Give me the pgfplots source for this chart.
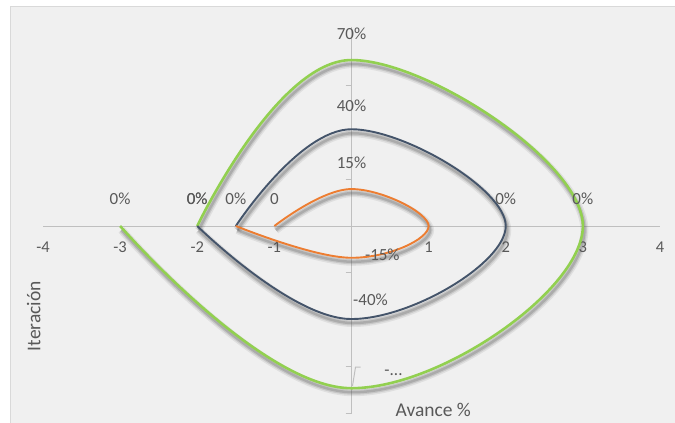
\documentclass[border=0pt]{standalone}
\usepackage{pgfplots}
\pgfplotsset{compat=1.18}
\usepackage{fontspec}
\setmainfont{Carlito}

\definecolor{chartbg}{RGB}{240,240,240}
\definecolor{chartborder}{RGB}{217,217,217}
\definecolor{axisgray}{RGB}{191,191,191}
\definecolor{textgray}{RGB}{89,89,89}
\definecolor{serGreen}{RGB}{146,208,80}
\definecolor{serBlue}{RGB}{68,84,106}
\definecolor{serOrange}{RGB}{237,125,49}

% Spiral turns: each series runs from its start on the x axis, over the top,
% around the right, under the bottom and back to the x axis.
\pgfplotstableread{
x y
-1 0
0 0.79
1 0
0 -0.68
-1.5 0
}\turnA
\pgfplotstableread{
x y
-1.5 0
0 2.07
2 0
0 -1.99
-2 0
}\turnB
\pgfplotstableread{
x y
-2 0
0 3.55
3 0
0 -3.47
-3 0
}\turnC

\tikzset{
  shadowline/.style 2 args={draw=black!70, opacity=#2, line width=#1,
    transform canvas={shift={(1.5bp,-4bp)}}},
  dlabel/.style={font=\fontsize{17bp}{19bp}\selectfont, text=textgray, inner sep=0pt},
}

\begin{document}
\begin{tikzpicture}
\useasboundingbox (0,0) rectangle (675bp,423bp);
\fill[white] (0,0) rectangle (675bp,423bp);
\fill[chartbg] (10bp,0) rectangle (675bp,416bp);
\draw[chartborder, line width=1bp] (10bp,0) -- (10bp,416bp) -- (675bp,416bp);

\begin{axis}[
  at={(43bp,10bp)}, anchor=south west,
  scale only axis, width=617bp, height=386bp,
  xmin=-4, xmax=4, ymin=-4, ymax=4.257,
  axis lines=middle,
  axis line style={axisgray, line width=1bp, -},
  clip=false,
  xtick={-4,-3,...,4},
  xticklabels={-4,-3,-2,-1,0,1,2,3,4},
  major x tick style={draw=none},
  extra x ticks={-4,4}, extra x tick labels={},
  extra x tick style={major tick length=6bp, tick align=outside, major tick style={draw=axisgray, line width=1bp}},
  ytick={-4,-3,-1,1,3}, yticklabels={},
  major tick length=6bp,
  y tick style={draw=axisgray, line width=1bp},
  ytick align=outside,
  xticklabel style={font=\fontsize{16.5bp}{18bp}\selectfont, text=textgray, yshift=-9bp},
  xlabel={Avance \%}, ylabel={Iteración},
  xlabel style={at={(axis cs:1.06,-3.94)}, anchor=center,
    font=\fontsize{19.5bp}{22bp}\selectfont, text=textgray},
  ylabel style={at={(axis cs:-4.12,-1.93)}, anchor=center, rotate=90,
    font=\fontsize{19.5bp}{22bp}\selectfont, text=textgray},
  every axis plot/.append style={smooth, tension=0.7},
]
% soft shadows under the lines
\addplot[shadowline={8bp}{0.10}] table {\turnC};
\addplot[shadowline={5bp}{0.16}] table {\turnC};
\addplot[shadowline={2.5bp}{0.22}] table {\turnC};
\addplot[shadowline={8bp}{0.10}] table {\turnB};
\addplot[shadowline={5bp}{0.16}] table {\turnB};
\addplot[shadowline={2.5bp}{0.22}] table {\turnB};
\addplot[shadowline={8bp}{0.10}] table {\turnA};
\addplot[shadowline={5bp}{0.16}] table {\turnA};
\addplot[shadowline={2.5bp}{0.22}] table {\turnA};

% the three turns
\addplot[serGreen, line width=2.6bp] table {\turnC};
\addplot[serBlue, line width=1.9bp] table {\turnB};
\addplot[serOrange, line width=1.9bp] table {\turnA};

% leader line of the bottom label
\draw[axisgray, line width=1bp] (axis cs:0.117,-3.02) -- (axis cs:0.052,-3.02)
  .. controls (axis cs:0.03,-3.2) .. (axis cs:0.013,-3.42);

% data labels
\node[dlabel] at (axis cs:0,4.11) {70\%};
\node[dlabel] at (axis cs:0,2.57) {40\%};
\node[dlabel] at (axis cs:0,1.35) {15\%};
\node[dlabel] at (axis cs:-3,0.58) {0\%};
\node[dlabel] at (axis cs:-2,0.58) {0\%};
\node[dlabel] at (axis cs:-2,0.58) {0\%};
\node[dlabel] at (axis cs:-1.5,0.58) {0\%};
\node[dlabel] at (axis cs:-1,0.58) {0};
\node[dlabel] at (axis cs:2,0.58) {0\%};
\node[dlabel] at (axis cs:3,0.58) {0\%};
\node[dlabel] at (axis cs:0.40,-0.62) {-15\%};
\node[dlabel] at (axis cs:0.246,-1.58) {-40\%};
\node[dlabel] at (axis cs:0.545,-3.14) {-...};
\end{axis}
\end{tikzpicture}
\end{document}
